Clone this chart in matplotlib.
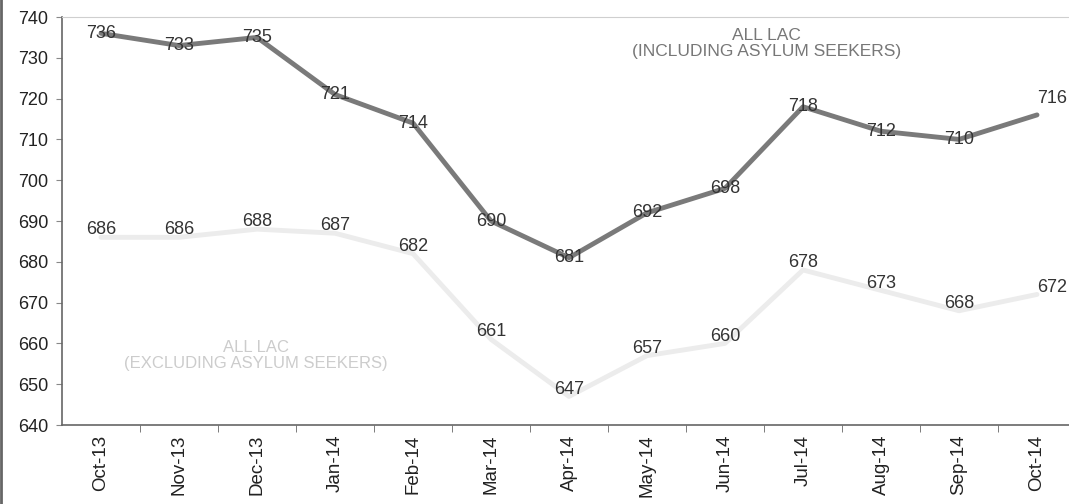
import matplotlib.pyplot as plt
from matplotlib.lines import Line2D
import numpy as np

plt.rcParams['font.family'] = ['Liberation Sans', 'DejaVu Sans']

# Månedene og verdiene lest av grafen
maaneder = ["Oct-13", "Nov-13", "Dec-13", "Jan-14", "Feb-14", "Mar-14", "Apr-14",
            "May-14", "Jun-14", "Jul-14", "Aug-14", "Sep-14", "Oct-14"]
inkl_asyl = [736, 733, 735, 721, 714, 690, 681, 692, 698, 718, 712, 710, 716]
ekskl_asyl = [686, 686, 688, 687, 682, 661, 647, 657, 660, 678, 673, 668, 672]

fig = plt.figure(figsize=(10.69, 5.04), dpi=100)
W, H = 1069, 504
ax = fig.add_axes([62 / W, 1 - 425 / H, 1014 / W, (425 - 17) / H])

x = np.arange(len(maaneder))

# Lys linje (uten asylsøkere)
ax.plot(x, ekskl_asyl, color="#ececec", linewidth=3.5, solid_capstyle="round", zorder=2)
# Mørk linje (med asylsøkere)
ax.plot(x, inkl_asyl, color="#7a7a7a", linewidth=3.5, solid_capstyle="round", zorder=3)

for xi, v in zip(x, inkl_asyl):
    dx, dy = 0, 0
    if xi == len(x) - 1:
        dx, dy = 0.2, 4
    ax.text(xi + dx, v + dy, str(v), ha="center", va="center", fontsize=13,
            color="#333333", zorder=4)
for xi, v in zip(x, ekskl_asyl):
    dx = 0.2 if xi == len(x) - 1 else 0
    ax.text(xi + dx, v + 1.8, str(v), ha="center", va="center", fontsize=13,
            color="#333333", zorder=4)

ax.text(0.695, 0.935, "ALL LAC\n(INCLUDING ASYLUM SEEKERS)", transform=ax.transAxes,
        ha="center", va="center", fontsize=12.5, color="#777777", linespacing=1.05)
ax.text(0.191, 0.17, "ALL LAC\n(EXCLUDING ASYLUM SEEKERS)", transform=ax.transAxes,
        ha="center", va="center", fontsize=12, color="#cccccc", linespacing=1.1)

ax.set_ylim(640, 740)
ax.set_yticks(np.arange(640, 741, 10))
ax.set_xlim(-0.5, len(maaneder) - 0.5)
ax.set_xticks(x)
ax.set_xticklabels(maaneder, rotation=90, fontsize=13.5, color="#222222")
ax.set_xticks(np.arange(0.5, len(maaneder) - 0.5, 1), minor=True)
ax.tick_params(axis="x", which="major", length=0, pad=7)
ax.tick_params(axis="x", which="minor", length=5, color="#666666", direction="out")
ax.tick_params(axis="y", length=4, color="#888888", labelsize=13, labelcolor="#222222", pad=6)

ax.spines["right"].set_visible(False)
ax.spines["top"].set_color("#cfcfcf")
ax.spines["left"].set_color("#666666")
ax.spines["bottom"].set_color("#666666")
ax.spines["left"].set_linewidth(1.2)
ax.spines["bottom"].set_linewidth(1.2)

# Mørk kant til venstre fra skanningen
fig.add_artist(Line2D([0.001, 0.001], [0, 1], transform=fig.transFigure,
                      color="#666666", linewidth=2))

fig.savefig("out.png", dpi=100)
